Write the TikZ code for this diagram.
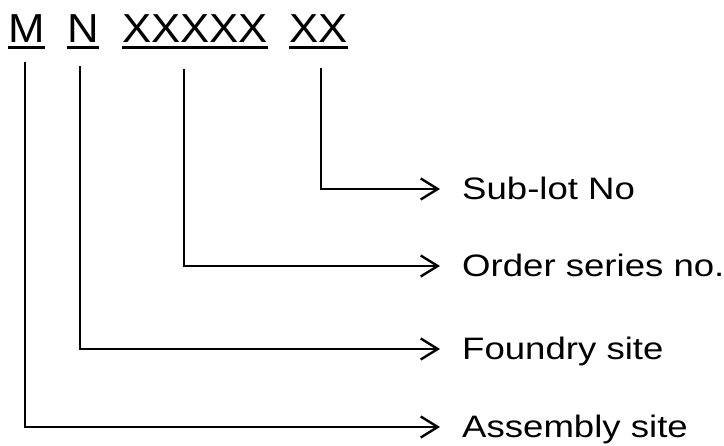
\documentclass[tikz,border=0pt]{standalone}
\usepackage{fontspec}
\usepackage{graphicx}
\setmainfont{Liberation Sans}
\usetikzlibrary{arrows.meta}
\tikzset{
  code/.style={anchor=base west, inner sep=0pt, font=\fontsize{40.5}{40.5}\selectfont},
  lbl/.style={anchor=base west, inner sep=0pt, font=\fontsize{31}{31}\selectfont},
  uline/.style={line width=3pt},
  conn/.style={line width=2.4pt, -{Straight Barb[length=17pt,width=21pt,line width=2.4pt]}}
}
\newcommand{\hsx}[1]{\scalebox{1.08}[1]{#1}}
\newcommand{\hsl}[1]{\scalebox{1.18}[1]{#1}}
\begin{document}
\begin{tikzpicture}[x=1pt,y=-1pt]
\useasboundingbox (0,0) rectangle (724,446);
% code letters
\node[code] (M) at (8,43) {\hsx{M}};
\node[code] (N) at (67,43) {\hsx{N}};
\node[code] (X5) at (122,43) {\hsx{XXXXX}};
\node[code] (X2) at (289,43) {\hsx{XX}};
\foreach \n in {M,N,X5,X2}{
  \draw[uline] ([yshift=-5pt]\n.base west) -- ([yshift=-5pt]\n.base east);
}
% connector start points
\coordinate (mt) at (25,62);
\coordinate (nt) at (80,66);
\coordinate (x5t) at (184,69);
\coordinate (x2t) at (321,68);
% arrow end points
\coordinate (e1) at (440,189);
\coordinate (e2) at (440,266);
\coordinate (e3) at (440,349);
\coordinate (e4) at (440,427);
% labels
\node[lbl] (L1) at (462,200) {\hsl{Sub-lot No}};
\node[lbl] (L2) at (462,277) {\hsl{Order series no.}};
\node[lbl] (L3) at (462,360) {\hsl{Foundry site}};
\node[lbl] (L4) at (462,438) {\hsl{Assembly site}};
% connectors
\draw[conn] (x2t) |- (e1);
\draw[conn] (x5t) |- (e2);
\draw[conn] (nt) |- (e3);
\draw[conn] (mt) |- (e4);
\end{tikzpicture}
\end{document}
